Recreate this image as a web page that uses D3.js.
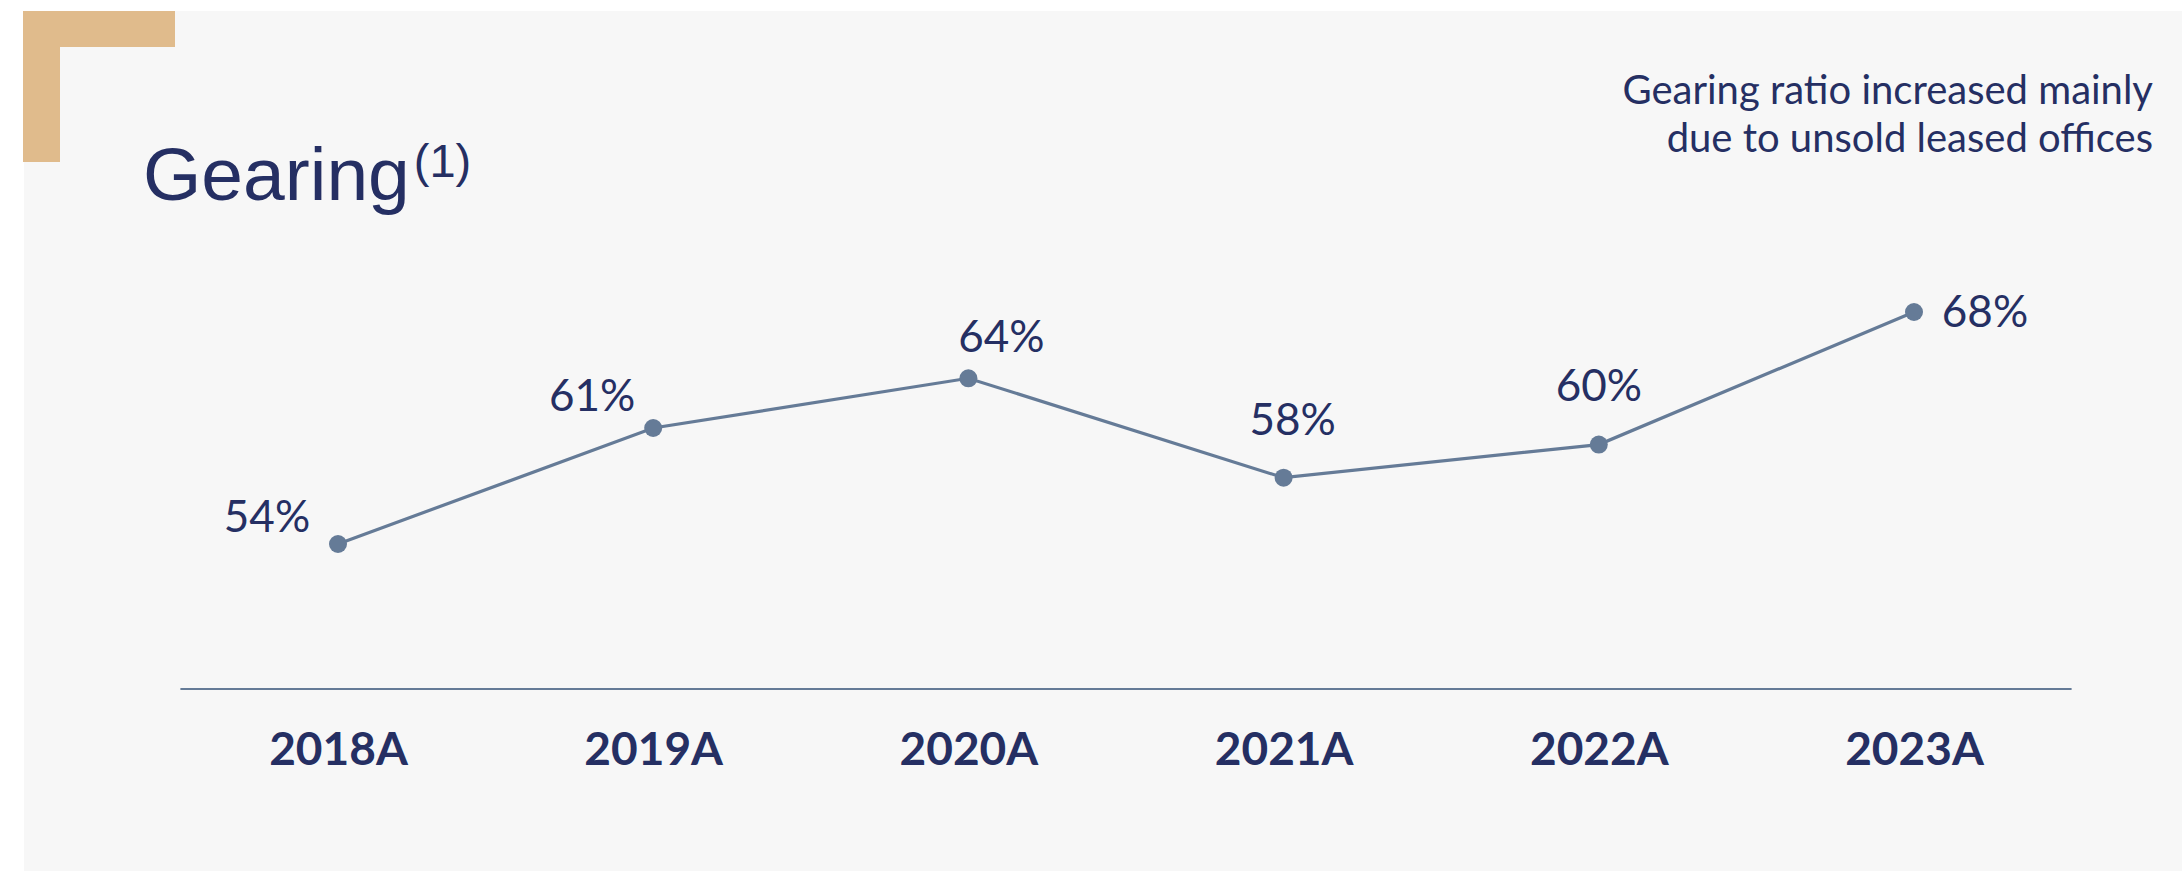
<!DOCTYPE html>
<html>
<head>
<meta charset="utf-8">
<script src="https://cdn.jsdelivr.net/npm/d3@7/dist/d3.min.js"></script>
<style>
  html, body { margin: 0; padding: 0; background: #ffffff; }
  svg { display: block; }
</style>
</head>
<body>
<svg id="chart" width="2182" height="871"></svg>
<script>
// Gearing ratio by financial year
const years = ["2018A", "2019A", "2020A", "2021A", "2022A", "2023A"];
const gearing = [54, 61, 64, 58, 60, 68];
const valueLabels = ["54%", "61%", "64%", "58%", "60%", "68%"];

// Where each value label sits relative to its point
const labelOffsets = [[-71, -12], [-61, -17], [33, -26], [9, -43], [0, -44], [71, 15]];

const W = 2182, H = 871;
const navy = "#252f63";
const lineColor = "#657b97";
const gold = "#e0bb8c";

const svg = d3.select("#chart");

// Panel background
svg.append("rect").attr("x", 24).attr("y", 11).attr("width", W - 24).attr("height", H - 11)
  .attr("fill", "#f7f7f7");

// Corner bracket
svg.append("path")
  .attr("d", "M23,11 H175 V47 H60 V162 H23 Z")
  .attr("fill", gold);

// Title
const title = svg.append("text")
  .attr("x", 143).attr("y", 200)
  .attr("font-family", "'Liberation Sans', Arial, sans-serif")
  .attr("font-size", 75)
  .attr("fill", navy);
title.append("tspan").text("Gearing");
title.append("tspan").attr("font-size", 47).attr("dy", -23).attr("dx", 4).text("(1)");

// Annotation
const note = svg.append("text")
  .attr("text-anchor", "end")
  .attr("font-family", "Lato, sans-serif")
  .attr("font-size", 40)
  .attr("fill", navy);
note.append("tspan").attr("x", 2153).attr("y", 104).text("Gearing ratio increased mainly");
note.append("tspan").attr("x", 2153).attr("y", 152).text("due to unsold leased offices");

// Scales
const x = d3.scalePoint().domain(years).range([338, 1914]);
const y = d3.scaleLinear().domain([54, 68]).range([544, 312]);

// Category axis
const axisY = 689;
const half = x.step() / 2;
const xAxis = d3.axisBottom(x).tickSize(0).tickPadding(0);
const gx = svg.append("g").attr("transform", `translate(0,${axisY})`).call(xAxis);
gx.select(".domain").remove();
gx.append("line")
  .attr("x1", x(years[0]) - half).attr("x2", x(years[years.length - 1]) + half)
  .attr("y1", 0).attr("y2", 0)
  .attr("stroke", lineColor).attr("stroke-width", 2);
gx.selectAll(".tick text")
  .attr("y", 76).attr("dy", 0)
  .attr("font-family", "Lato, sans-serif")
  .attr("font-weight", 700)
  .attr("font-size", 46)
  .attr("fill", navy);

// Line
const data = years.map((yr, i) => ({ yr, v: gearing[i], label: valueLabels[i], off: labelOffsets[i] }));
svg.append("path")
  .datum(data)
  .attr("fill", "none")
  .attr("stroke", lineColor)
  .attr("stroke-width", 3.2)
  .attr("d", d3.line().x(d => x(d.yr)).y(d => y(d.v)));

// Points
svg.append("g").selectAll("circle").data(data).join("circle")
  .attr("cx", d => x(d.yr)).attr("cy", d => y(d.v)).attr("r", 9)
  .attr("fill", lineColor);

// Value labels
svg.append("g").selectAll("text").data(data).join("text")
  .attr("x", d => x(d.yr) + d.off[0])
  .attr("y", d => y(d.v) + d.off[1])
  .attr("text-anchor", "middle")
  .attr("font-family", "Lato, sans-serif")
  .attr("font-size", 44)
  .attr("fill", navy)
  .text(d => d.label);
</script>
</body>
</html>
